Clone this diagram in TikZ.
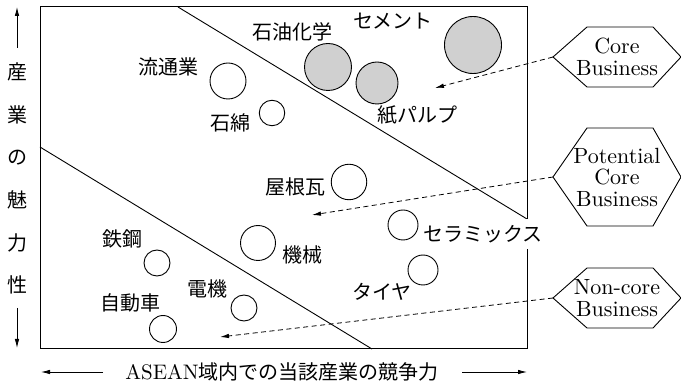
\documentclass[tikz,border=0pt]{standalone}
\usepackage{fontspec}
\newfontfamily\cjk{Noto Sans CJK JP}
\newfontfamily\lmten{lmroman10-regular.otf}
\usetikzlibrary{arrows.meta}
\definecolor{bubblegray}{RGB}{208,208,208}
\tikzset{
  jp/.style={font=\cjk\fontsize{20}{22}\selectfont, inner sep=0pt},
  circ/.style={circle, draw, line width=0.9pt, inner sep=0pt, minimum size=#1},
  gcirc/.style={circ=#1, fill=bubblegray},
  hexbox/.style={inner sep=0pt, outer sep=0pt, minimum width=128pt, align=center,
    font=\lmten\fontsize{22}{21.5}\selectfont},
  hexline/.style={line width=0.9pt},
  dasharrow/.style={dashed, dash pattern=on 5pt off 3.5pt, line width=0.8pt,
    -{Latex[length=9pt,width=4.5pt]}},
  axarrow/.style={line width=0.8pt, -{Latex[length=9pt,width=4.5pt]}},
  frameline/.style={line width=1pt},
  divline/.style={line width=0.9pt}
}
\begin{document}
\begin{tikzpicture}[x=1pt,y=-1pt]
\useasboundingbox (0,0) rectangle (681,387);
% frame and dividing lines
\draw[frameline] (40,7) rectangle (527,349);
\draw[divline] (178,7) -- (527,219);
\draw[divline] (40,147) -- (372,349);

% circles
\node[circ=36pt] (cRyutsu) at (228,81) {};
\node[circ=25.5pt] (cSekimen) at (272,113) {};
\node[gcirc=47pt] (cSekiyu) at (328,67) {};
\node[gcirc=42pt] (cKami) at (377,83) {};
\node[gcirc=57pt] (cCement) at (473,45) {};
\node[circ=35.5pt] (cYane) at (349,182) {};
\node[circ=35pt] (cKikai) at (258,243) {};
\node[circ=26pt] (cTekko) at (157,263) {};
\node[circ=26pt] (cDenki) at (244,308) {};
\node[circ=27pt] (cJidosha) at (163,329) {};
\node[circ=30pt] (cCeramic) at (403,225) {};
\node[circ=30pt] (cTire) at (423,270) {};

% labels
\node[jp] (lRyutsu) at (168,67) {流通業};
\node[jp] (lSekimen) at (230,123) {石綿};
\node[jp] (lSekiyu) at (292,32) {石油化学};
\node[jp] (lCement) at (393,21) {セメント};
\node[jp] (lKami) at (417,115) {紙パルプ};
\node[jp] (lYane) at (295,187) {屋根瓦};
\node[jp] (lKikai) at (302,255) {機械};
\node[jp] (lTekko) at (122,239) {鉄鋼};
\node[jp] (lDenki) at (207,289) {電機};
\node[jp] (lJidosha) at (130,303) {自動車};
\node[jp, fill=white, minimum height=30pt, inner xsep=1pt] (lCeramic) at (483,234) {セラミックス};
\node[jp] (lTire) at (382,292) {タイヤ};

% hexagons
\node[hexbox, minimum height=60pt] (core) at (617,57) {Core\\Business};
\node[hexbox, minimum height=98pt] (pot) at (617,177) {Potential\\Core\\Business};
\node[hexbox, minimum height=60pt] (non) at (617,298) {Non-core\\Business};
\foreach \h in {core,pot,non}{
  \draw[hexline] (\h.west) -- ([xshift=34pt]\h.north west) -- ([xshift=-28pt]\h.north east)
    -- (\h.east) -- ([xshift=-28pt]\h.south east) -- ([xshift=34pt]\h.south west) -- cycle;
}

% dashed arrows
\coordinate (tipCore) at (435,88);
\coordinate (tipPot) at (312,215);
\coordinate (tipNon) at (220,337);
\draw[dasharrow] (core.west) -- (tipCore);
\draw[dasharrow] (pot.west) -- (tipPot);
\draw[dasharrow] (non.west) -- (tipNon);

% y axis
\node[jp, align=center, font=\cjk\fontsize{20}{42.6}\selectfont] (ylab) at (17,178.5) {産\\業\\の\\魅\\力\\性};
\coordinate (yUpS) at (17,48);
\coordinate (yUpE) at (17,7);
\coordinate (yDnS) at (17,308);
\coordinate (yDnE) at (17,348);
\draw[axarrow] (yUpS) -- (yUpE);
\draw[axarrow] (yDnS) -- (yDnE);

% x axis
\node[inner sep=0pt] (xlab) at (282,372) {\fontsize{20}{22}\selectfont{\lmten\fontsize{21}{22}\selectfont ASEAN}{\cjk 域内での当該産業の競争力}};
\coordinate (xLS) at (103,372);
\coordinate (xLE) at (41,372);
\coordinate (xRS) at (462,372);
\coordinate (xRE) at (527,372);
\draw[axarrow] (xLS) -- (xLE);
\draw[axarrow] (xRS) -- (xRE);
\end{tikzpicture}
\end{document}
